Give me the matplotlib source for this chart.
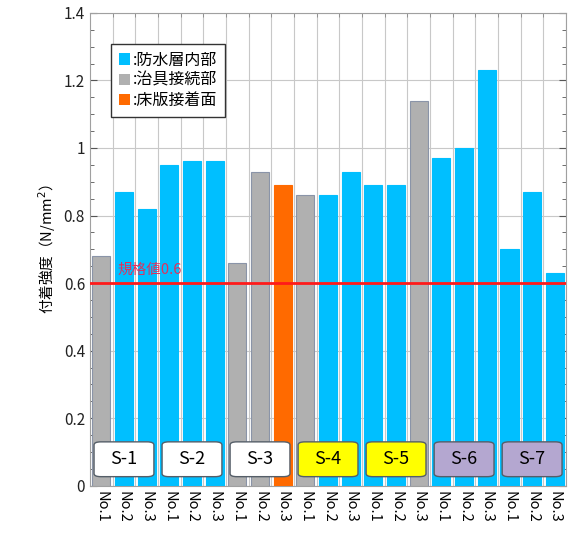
import numpy as np
import matplotlib.pyplot as plt
from matplotlib.patches import FancyBboxPatch
from matplotlib.patches import Patch
from matplotlib.ticker import MultipleLocator

plt.rcParams['font.family'] = ['Noto Sans CJK JP', 'DejaVu Sans']

groups = ["S-1", "S-2", "S-3", "S-4", "S-5", "S-6", "S-7"]
group_colors = ["white", "white", "white", "#ffff00", "#ffff00", "#b4a7d0", "#b4a7d0"]
samples = ["No.1", "No.2", "No.3"]
values = [0.68, 0.87, 0.82,
          0.95, 0.96, 0.96,
          0.66, 0.93, 0.89,
          0.86, 0.86, 0.93,
          0.89, 0.89, 1.14,
          0.97, 1.00, 1.23,
          0.70, 0.87, 0.63]
# 0: 防水層内部, 1: 治具接続部, 2: 床版接着面
kinds = [1, 0, 0,
         0, 0, 0,
         1, 1, 2,
         1, 0, 0,
         0, 0, 1,
         0, 0, 0,
         0, 0, 0]
kind_names = [":防水層内部", ":治具接続部", ":床版接着面"]
kind_colors = ["#00bfff", "#b0b0b0", "#ff6a00"]
yticks = [0, 0.2, 0.4, 0.6, 0.8, 1.0, 1.2, 1.4]
ytick_labels = ["0", "0.2", "0.4", "0.6", "0.8", "1", "1.2", "1.4"]
limit = 0.6

fig = plt.figure(figsize=(5.73, 5.35), dpi=100)
ax = fig.add_axes([0.157, 0.092, 0.831, 0.884])

x = np.arange(len(values))
cols = [kind_colors[k] for k in kinds]
edges = ["#8a94a8" if k == 1 else c for k, c in zip(kinds, cols)]
ax.bar(x, values, width=0.8, color=cols, edgecolor=edges, linewidth=0.8, zorder=3)

ax.axhline(limit, color="#ff1a1a", lw=2, zorder=4)
ax.text(0.7, limit + 0.018, "規格値0.6", color="#e0305c", fontsize=10.5, va="bottom", zorder=5)

for i, (g, gc) in enumerate(zip(groups, group_colors)):
    cx = i * 3 + 1
    box = FancyBboxPatch((cx - 1.32, 0.027), 2.64, 0.103,
                         boxstyle="round,pad=0,rounding_size=0.3",
                         mutation_aspect=0.03,
                         facecolor=gc, edgecolor="#555e68", lw=1, zorder=6)
    ax.add_patch(box)
    ax.text(cx, 0.078, g, ha="center", va="center", fontsize=13, zorder=7)

ax.set_xlim(-0.5, len(values) - 0.5)
ax.set_ylim(0, 1.4)
ax.set_xticks(x)
ax.set_xticklabels(samples * len(groups), rotation=270, fontsize=10.5)
ax.set_xticks(x + 0.5, minor=True)
ax.set_yticks(yticks)
ax.set_yticklabels(ytick_labels, fontsize=11)
ax.yaxis.set_minor_locator(MultipleLocator(0.05))
ax.tick_params(axis="y", which="both", direction="in", right=True, colors="#555555", labelcolor="#222222")
ax.tick_params(axis="y", which="major", length=5)
ax.tick_params(axis="y", which="minor", length=3)
ax.tick_params(axis="x", which="major", length=0, pad=4)
ax.tick_params(axis="x", which="minor", length=3, direction="in", top=True, bottom=False, colors="#888888")
ax.grid(True, axis="y", which="major", color="#c8c8c8", lw=0.8, zorder=0)
ax.grid(True, axis="x", which="minor", color="#c8c8c8", lw=0.8, zorder=0)
for s in ax.spines.values():
    s.set_color("#a0a0a0")

ax.set_ylabel("付着強度（N/mm$^2$）", fontsize=10.5)

handles = [Patch(facecolor=c, edgecolor="none") for c in kind_colors]
leg = ax.legend(handles, kind_names, loc="upper left", bbox_to_anchor=(0.028, 0.952),
                fontsize=11.5, handlelength=0.7, handleheight=0.7, handletextpad=0.15,
                fancybox=False, edgecolor="#333333", framealpha=1, borderpad=0.5,
                labelspacing=0.2)
leg.get_frame().set_linewidth(1)
leg.set_zorder(8)

fig.savefig("out.png", dpi=100)
